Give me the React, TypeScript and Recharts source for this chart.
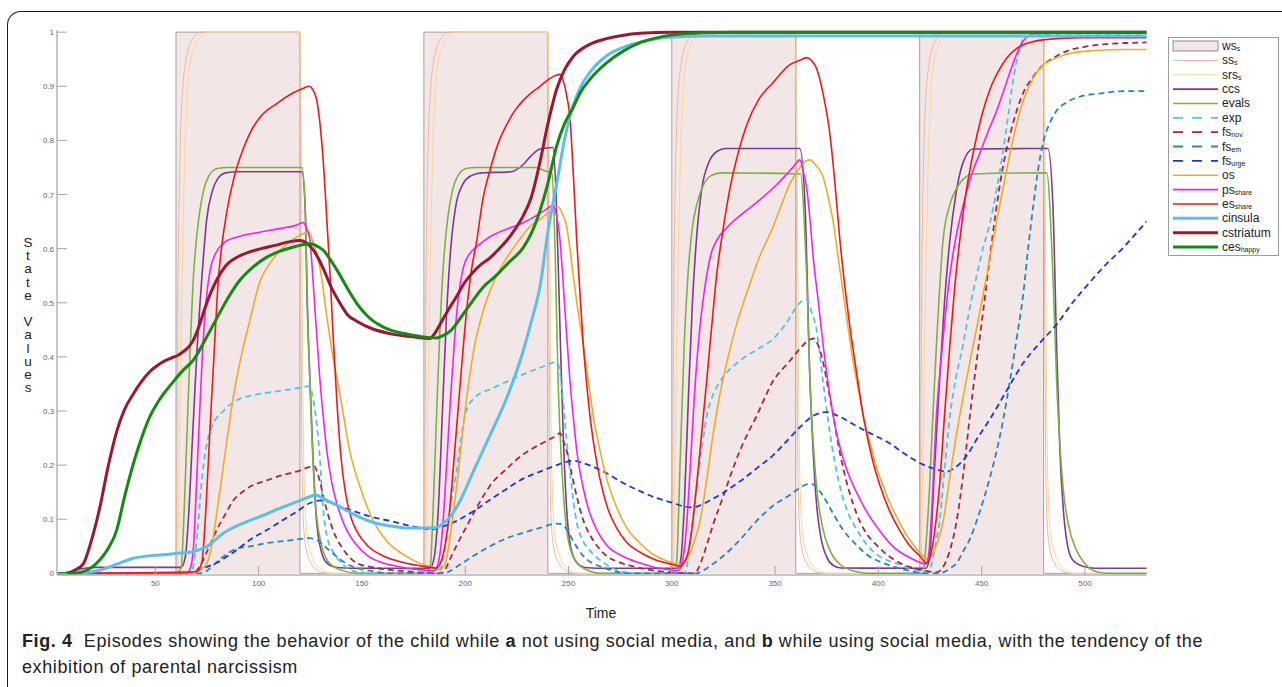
import React from 'react';
import { ComposedChart, Line, Area, XAxis, YAxis } from 'recharts';

type P = [number, number];

// ---------- data: [time, value] ----------
const ws: P[] = [[2,0],[60,0],[60,1],[120,1],[120,0],[180,0],[180,1],[240,1],[240,0],[300,0],[300,1],[360,1],[360,0],[420,0],[420,1],[480,1],[480,0],[530,0]];

const ss: P[] = [[2,0],[60,0],[60.6,0.3],[61.2,0.6],[62,0.78],[63,0.88],[64.5,0.94],[66.5,0.975],[69,0.992],[72,1],[120,1],[120.4,0.6],[120.9,0.25],[121.6,0.1],[123,0.045],[125.5,0.018],[129,0.005],[133,0],
[180,0],[180.6,0.3],[181.2,0.6],[182,0.78],[183,0.88],[184.5,0.94],[186.5,0.975],[189,0.992],[192,1],[240,1],[240.4,0.6],[240.9,0.25],[241.6,0.1],[243,0.045],[245.5,0.018],[249,0.005],[253,0],
[300,0],[300.6,0.3],[301.2,0.6],[302,0.78],[303,0.88],[304.5,0.94],[306.5,0.975],[309,0.992],[312,1],[360,1],[360.4,0.6],[360.9,0.25],[361.6,0.1],[363,0.045],[365.5,0.018],[369,0.005],[373,0],
[420,0],[420.6,0.3],[421.2,0.6],[422,0.78],[423,0.88],[424.5,0.94],[426.5,0.975],[429,0.992],[432,1],[480,1],[480.4,0.6],[480.9,0.25],[481.6,0.1],[483,0.045],[485.5,0.018],[489,0.005],[493,0],[530,0]];

const srs: P[] = [[2,0],[60.5,0],[61.5,0.2],[62.5,0.45],[63.5,0.65],[64.5,0.8],[65.5,0.89],[67,0.945],[69,0.975],[72,0.992],[75,1],[120.3,1],[120.8,0.7],[121.4,0.35],[122.2,0.15],[123.5,0.07],[126,0.03],[129.5,0.01],[135,0],
[180.5,0],[181.5,0.2],[182.5,0.45],[183.5,0.65],[184.5,0.8],[185.5,0.89],[187,0.945],[189,0.975],[192,0.992],[195,1],[240.3,1],[240.8,0.7],[241.4,0.35],[242.2,0.15],[243.5,0.07],[246,0.03],[249.5,0.01],[255,0],
[300.5,0],[301.5,0.2],[302.5,0.45],[303.5,0.65],[304.5,0.8],[305.5,0.89],[307,0.945],[309,0.975],[312,0.992],[315,1],[360.3,1],[360.8,0.7],[361.4,0.35],[362.2,0.15],[363.5,0.07],[366,0.03],[369.5,0.01],[375,0],
[420.5,0],[421.5,0.2],[422.5,0.45],[423.5,0.65],[424.5,0.8],[425.5,0.89],[427,0.945],[429,0.975],[432,0.992],[435,1],[480.3,1],[480.8,0.7],[481.4,0.35],[482.2,0.15],[483.5,0.07],[486,0.03],[489.5,0.01],[495,0],[530,0]];

const ccs: P[] = [[2,0],[6,0.001],[10,0.004],[15,0.009],[22,0.011],[62.5,0.011],[64.5,0.03],[66,0.1],[68,0.25],[70,0.4],[72.5,0.545],[74.9,0.655],[77.5,0.705],[80,0.728],[84,0.74],[90,0.742],[121,0.742],[122.5,0.68],[123.5,0.5],[124.9,0.35],[126.5,0.2],[128.1,0.094],[131.2,0.03],[134,0.016],[138,0.011],[145,0.0095],
[183,0.0095],[185,0.03],[187,0.12],[189,0.3],[191,0.48],[193,0.6],[195.5,0.68],[199,0.72],[203,0.735],[208,0.74],[222,0.742],[228,0.755],[232,0.772],[236.2,0.784],[242.5,0.787],[244,0.7],[245.9,0.45],[247.5,0.25],[249.1,0.12],[251,0.05],[254,0.02],[258,0.011],[264,0.0095],
[303,0.0095],[304.5,0.03],[306,0.12],[308,0.32],[310,0.5],[312,0.62],[314.5,0.71],[318,0.76],[322,0.78],[326,0.785],[362,0.785],[364.5,0.68],[366.9,0.355],[368.5,0.22],[370.1,0.127],[372.5,0.06],[375,0.03],[378,0.015],[382,0.01],
[423,0.0095],[424.8,0.03],[427,0.18],[429.6,0.355],[432,0.5],[434.6,0.615],[437.5,0.7],[440.9,0.758],[445.8,0.784],[482.1,0.785],[484.5,0.68],[486.3,0.42],[487.9,0.224],[489.5,0.12],[491.2,0.06],[494,0.025],[499,0.013],[505,0.0095],[530,0.0095]];

const evals: P[] = [[2,0],[60,0],[62.5,0.01],[64,0.12],[66,0.33],[68.4,0.545],[71,0.655],[73.5,0.71],[76,0.735],[80,0.748],[85,0.75],[121,0.75],[122.5,0.68],[124,0.45],[125.5,0.28],[127.5,0.13],[130,0.06],[134,0.02],[140,0.006],[148,0],
[181,0],[183,0.01],[184.5,0.12],[186.5,0.33],[189,0.545],[191.5,0.655],[194,0.71],[196.5,0.735],[200.5,0.748],[205,0.75],[234,0.75],[239,0.743],[242,0.74],[243.5,0.6],[245,0.35],[247,0.18],[249.5,0.07],[253,0.025],[258,0.008],[266,0],
[301.5,0],[302.5,0.03],[304,0.2],[306,0.42],[308,0.56],[310,0.64],[312,0.68],[315,0.715],[319,0.735],[324,0.74],[362.5,0.738],[364,0.66],[365.3,0.55],[366.9,0.355],[368.5,0.24],[370.1,0.16],[373,0.085],[376.6,0.042],[382,0.015],[389.5,0.003],[395,0],
[421.6,0],[423,0.05],[424.8,0.16],[426.5,0.3],[428.1,0.42],[431.3,0.615],[434.5,0.68],[437.9,0.712],[441,0.728],[445.8,0.738],[481.5,0.74],[484.5,0.55],[486.3,0.355],[489.4,0.16],[492,0.09],[496,0.042],[500,0.018],[505.7,0.003],[512,0],[530,0]];

const exp: P[] = [[2,0],[67.5,0],[69,0.03],[70.5,0.08],[72.5,0.172],[74.5,0.23],[76.5,0.262],[78.1,0.277],[82.9,0.3],[89.4,0.32],[100,0.331],[112,0.338],[120,0.343],[124.5,0.346],[126,0.33],[128,0.28],[129.7,0.21],[131,0.13],[133,0.07],[136,0.04],[139.4,0.022],[147,0.003],[155,0],
[187,0],[189,0.02],[191.5,0.08],[193.5,0.14],[195.9,0.19],[198,0.25],[200.7,0.302],[205.6,0.328],[212,0.34],[220.1,0.354],[236.2,0.38],[244.3,0.39],[245.5,0.38],[247.3,0.322],[249,0.25],[250.7,0.19],[252.5,0.13],[254,0.094],[257,0.06],[260.4,0.042],[268.5,0.016],[276,0.003],[285,0],
[306,0],[307.2,0.01],[309,0.06],[310.5,0.11],[312,0.16],[314.5,0.23],[316.9,0.29],[320,0.33],[323.3,0.354],[333,0.393],[341,0.413],[349,0.433],[355,0.46],[360,0.49],[362.5,0.502],[365.3,0.506],[367.5,0.485],[370.1,0.45],[373.2,0.355],[376.6,0.258],[381.4,0.16],[385,0.115],[389.5,0.081],[397,0.042],[410.5,0.016],[418,0.006],[424,0.003],
[426,0.02],[428,0.06],[429.6,0.094],[432,0.19],[434.6,0.29],[437.5,0.36],[440.9,0.42],[444,0.485],[447.6,0.55],[450.6,0.6],[454,0.647],[457.3,0.71],[460.3,0.778],[463,0.85],[465.1,0.908],[467.5,0.955],[470,0.986],[473,0.993],[476.6,0.996],[500,0.997],[530,0.997]];

const fsNov: P[] = [[2,0],[68,0],[71,0.01],[75,0.04],[79.7,0.08],[84,0.11],[87.8,0.135],[92,0.15],[95.8,0.16],[104,0.172],[112,0.182],[120,0.19],[124,0.196],[127,0.198],[128.5,0.185],[130,0.165],[131.3,0.142],[133.5,0.11],[136.2,0.078],[140,0.05],[144,0.03],[147.5,0.019],[155.5,0.011],[165,0.006],[178,0.002],[188,0],
[190,0.005],[192.5,0.025],[195.9,0.052],[200,0.082],[203.9,0.11],[208,0.138],[212,0.162],[220,0.193],[228.1,0.22],[236,0.238],[241,0.248],[244.3,0.255],[245.9,0.259],[247.5,0.245],[249.1,0.227],[251.5,0.185],[254,0.142],[257,0.1],[260.4,0.071],[264,0.05],[268.5,0.032],[275,0.02],[281.4,0.013],[290,0.006],[300,0.002],[311,0],
[313,0.01],[315,0.03],[316.9,0.052],[320,0.09],[324.9,0.142],[329,0.187],[333,0.227],[337,0.26],[341.1,0.291],[345,0.324],[349.1,0.356],[353,0.375],[357,0.392],[362,0.415],[366,0.43],[368.5,0.434],[371,0.42],[373.3,0.389],[375.8,0.34],[378.2,0.291],[380.5,0.24],[383,0.194],[386,0.15],[389.5,0.11],[394,0.075],[399.2,0.052],[405,0.032],[410.5,0.019],[416,0.011],[421.7,0.006],[428,0.002],
[431,0.01],[434,0.035],[437.9,0.097],[441,0.18],[444.3,0.291],[447.5,0.39],[450.8,0.486],[454,0.585],[457.3,0.68],[460.5,0.755],[463.7,0.81],[467,0.855],[470,0.887],[474.5,0.915],[479.7,0.939],[485,0.953],[491.2,0.965],[500,0.973],[510.5,0.978],[520,0.98],[530,0.981]];

const fsEm: P[] = [[2,0],[72,0],[75,0.005],[78,0.015],[82.9,0.031],[89.4,0.046],[95.8,0.05],[103.9,0.056],[115,0.061],[124.9,0.065],[127,0.063],[129.7,0.058],[132,0.05],[135,0.04],[139.4,0.026],[143,0.017],[147.5,0.01],[155,0.004],[162,0],
[190,0],[193,0.005],[197,0.015],[203.9,0.032],[212,0.05],[220.1,0.065],[228,0.075],[236.2,0.084],[244.3,0.092],[246.5,0.091],[248.5,0.085],[250.7,0.071],[253,0.055],[257.2,0.032],[261,0.02],[265.2,0.013],[273.3,0.003],[280,0],
[312,0],[315,0.005],[319,0.015],[324.9,0.032],[333,0.062],[341.1,0.097],[349,0.125],[357.2,0.145],[362,0.158],[366,0.165],[368,0.165],[371,0.155],[374.5,0.135],[378.2,0.11],[383,0.08],[389.5,0.052],[395,0.033],[402.4,0.019],[413.7,0.006],[422,0],
[430,0],[432.5,0.004],[435,0.01],[437.9,0.019],[441,0.04],[444.5,0.065],[447.6,0.097],[452,0.15],[457.3,0.227],[460.5,0.285],[463.7,0.356],[467,0.435],[470.2,0.518],[472.5,0.6],[475,0.68],[477.5,0.75],[479.8,0.797],[483,0.832],[486.3,0.855],[491,0.87],[497.6,0.881],[508,0.887],[518.6,0.891],[530,0.891]];

const fsUrge: P[] = [[2,0],[64,0],[67,0.002],[71,0.006],[74.9,0.012],[80,0.02],[84.6,0.031],[90,0.045],[95.8,0.062],[104,0.08],[112,0.099],[118,0.113],[124.9,0.13],[129.7,0.135],[133,0.133],[140,0.123],[147.5,0.113],[155,0.104],[163.6,0.097],[173,0.088],[180,0.083],[183,0.081],[187,0.084],[191,0.089],[195.9,0.097],[204,0.115],[212,0.136],[220,0.156],[228.1,0.175],[236.2,0.188],[244.3,0.2],[249,0.206],[252.3,0.208],[256,0.205],[262,0.197],[268.5,0.185],[276,0.168],[284.6,0.152],[292,0.14],[300.7,0.13],[305.5,0.124],[310.4,0.122],[315,0.128],[319,0.136],[324.9,0.149],[333,0.17],[341.1,0.194],[349,0.218],[357,0.25],[362,0.27],[368,0.29],[375,0.298],[381,0.29],[389.5,0.272],[397,0.257],[405.6,0.24],[413,0.22],[421.7,0.201],[428,0.192],[433,0.188],[437,0.195],[442.7,0.217],[448,0.25],[454,0.285],[462,0.337],[470.2,0.389],[478,0.425],[486.3,0.46],[494,0.5],[502.4,0.538],[510,0.57],[518.6,0.602],[524,0.625],[530,0.651]];

const os: P[] = [[2,0],[66,0],[69,0.002],[72,0.008],[74.9,0.018],[77.5,0.055],[79.7,0.11],[82.9,0.197],[85,0.255],[87.8,0.327],[91.5,0.4],[95.8,0.468],[100.7,0.54],[105,0.57],[110,0.595],[115.2,0.613],[120,0.625],[124.1,0.63],[126.5,0.61],[129.7,0.565],[133,0.475],[136,0.4],[139.4,0.33],[144.2,0.225],[150,0.15],[155.5,0.097],[162,0.06],[168,0.04],[175,0.024],[183,0.012],[188,0.007],
[190.5,0.02],[192.6,0.065],[195.9,0.162],[200.7,0.324],[204.5,0.42],[208.8,0.486],[214,0.54],[220.1,0.583],[226,0.615],[231.4,0.641],[236.2,0.654],[242.6,0.672],[245.1,0.677],[247,0.665],[249.1,0.641],[250.7,0.6],[252.3,0.55],[254.8,0.48],[257.2,0.421],[259.6,0.355],[262,0.291],[265,0.232],[268.5,0.175],[273,0.125],[278.2,0.084],[284,0.058],[289.5,0.039],[295,0.027],[300.7,0.019],[304,0.016],
[306,0.02],[308.5,0.035],[311,0.06],[313.7,0.097],[317,0.175],[320.1,0.259],[323,0.325],[326.6,0.389],[331,0.455],[336.3,0.518],[342,0.58],[349.1,0.641],[354,0.69],[357.2,0.72],[362,0.75],[365,0.762],[366.9,0.764],[369.5,0.755],[373.3,0.732],[376,0.69],[378.2,0.648],[380.5,0.585],[383,0.518],[385.5,0.45],[387.9,0.389],[390.3,0.34],[392.7,0.291],[396,0.24],[399.2,0.194],[402.5,0.16],[405.6,0.13],[409.5,0.1],[413.7,0.071],[417.5,0.05],[421.7,0.032],[424,0.026],
[426,0.035],[428.5,0.055],[431.4,0.097],[434.5,0.175],[437.9,0.259],[442,0.345],[445.9,0.421],[450,0.5],[454,0.583],[458,0.665],[462.1,0.745],[466,0.815],[470.2,0.874],[475,0.915],[479.8,0.939],[486,0.952],[494.3,0.962],[505,0.966],[518.6,0.968],[530,0.968]];

const psShare: P[] = [[2,0],[65,0],[67,0.01],[68.5,0.05],[70,0.17],[71.5,0.3],[73,0.42],[74.5,0.5],[76.5,0.56],[79,0.59],[83,0.61],[90,0.622],[100,0.63],[110,0.637],[118,0.643],[121.5,0.648],[123,0.64],[124.9,0.615],[126,0.56],[127.3,0.486],[128.5,0.42],[129.7,0.356],[131.3,0.29],[133,0.227],[135.3,0.17],[137.8,0.13],[142,0.085],[147.5,0.052],[153,0.032],[160.4,0.019],[170,0.011],[179.7,0.006],[185,0.005],
[187,0.02],[189,0.08],[191,0.2],[193,0.33],[195,0.44],[197,0.52],[199.1,0.565],[202,0.59],[206,0.605],[212,0.622],[220,0.636],[228.1,0.648],[234,0.66],[239,0.672],[242.6,0.68],[244,0.665],[245.9,0.615],[247,0.56],[248.3,0.486],[249.5,0.42],[250.7,0.356],[252.3,0.29],[254,0.227],[257,0.16],[260.4,0.11],[264,0.078],[268.5,0.052],[276,0.032],[284.6,0.019],[292,0.011],[300.7,0.006],[303,0.005],
[305,0.02],[307,0.08],[309,0.2],[311,0.33],[313,0.43],[315,0.5],[316.9,0.55],[319,0.59],[321.7,0.615],[327,0.64],[333,0.661],[341,0.685],[349.1,0.712],[355,0.735],[359,0.752],[362,0.764],[363.5,0.745],[365.3,0.712],[367,0.65],[368.5,0.583],[371,0.5],[373.3,0.421],[376.5,0.33],[379.8,0.259],[384,0.2],[389.5,0.149],[395,0.11],[400.8,0.078],[407,0.05],[413.7,0.032],[419,0.022],[423,0.017],
[424.5,0.04],[426,0.13],[428.1,0.291],[430,0.38],[432,0.46],[434.6,0.55],[437.5,0.62],[441,0.68],[445,0.735],[449.2,0.777],[453,0.815],[457.3,0.855],[460.5,0.89],[463.7,0.926],[467,0.96],[470.2,0.984],[473.5,0.995],[476.6,0.998],[500,0.998],[530,0.998]];

const esShare: P[] = [[2,0],[70,0.003],[72.5,0.02],[74.5,0.12],[76.5,0.27],[78.5,0.41],[80.5,0.542],[82.5,0.615],[84.6,0.668],[88,0.73],[92.6,0.785],[96,0.815],[100.7,0.843],[108.8,0.868],[116.8,0.888],[122,0.897],[124.5,0.9],[126,0.895],[128.1,0.875],[130,0.82],[131.5,0.75],[133,0.655],[134.6,0.55],[136.2,0.43],[138,0.31],[140,0.21],[142,0.15],[145,0.1],[147.5,0.078],[153,0.05],[160.4,0.032],[170,0.02],[179.7,0.013],[186,0.01],
[189,0.03],[192,0.1],[195,0.23],[198,0.37],[200.7,0.486],[203,0.56],[205.6,0.615],[208.5,0.69],[212,0.745],[216,0.795],[220.1,0.829],[224,0.855],[228.1,0.874],[232,0.888],[236.2,0.9],[240,0.912],[244.3,0.921],[245.9,0.922],[247.5,0.91],[249,0.885],[250.7,0.842],[252.3,0.74],[254,0.615],[255.6,0.515],[257.2,0.421],[258.8,0.35],[260.4,0.291],[262.8,0.225],[265.2,0.175],[269,0.12],[273.3,0.084],[278,0.058],[284.6,0.039],[292,0.025],[300.7,0.016],[304,0.013],
[306,0.02],[308,0.04],[310,0.09],[312,0.162],[314.5,0.26],[316.9,0.356],[319.3,0.455],[321.7,0.55],[325,0.64],[328.2,0.712],[332,0.775],[336.3,0.829],[342,0.875],[349.1,0.907],[357.2,0.94],[362,0.948],[365.3,0.953],[367.5,0.948],[370.1,0.933],[373.3,0.885],[376.6,0.81],[379,0.72],[381.4,0.615],[383.8,0.53],[386.3,0.453],[389.5,0.37],[392.7,0.291],[396.5,0.22],[400.8,0.162],[405.5,0.115],[410.5,0.078],[415,0.052],[420.1,0.032],[423.4,0.019],
[425,0.03],[427,0.07],[429.6,0.162],[432,0.29],[434.6,0.421],[437,0.53],[439.4,0.615],[442.5,0.705],[445.9,0.777],[450,0.845],[454,0.894],[458,0.927],[462.1,0.952],[467,0.97],[473.4,0.981],[480,0.986],[486.3,0.988],[500,0.99],[530,0.99]];

const cinsula: P[] = [[2,0],[12,0],[16,0.001],[23.2,0.006],[30,0.015],[39.4,0.028],[46,0.032],[52.3,0.034],[58,0.036],[63.6,0.038],[68.4,0.04],[71.5,0.044],[74.9,0.049],[78.5,0.06],[82.9,0.074],[89,0.087],[95.8,0.098],[104,0.11],[112,0.123],[119,0.133],[124.9,0.142],[127.5,0.145],[129.7,0.142],[134,0.133],[139.4,0.123],[147,0.107],[155.5,0.094],[163,0.088],[171.7,0.084],[184.6,0.084],[188.5,0.09],[192.6,0.104],[197,0.13],[203.9,0.188],[212,0.255],[220.1,0.324],[228,0.41],[232,0.465],[236.2,0.53],[240,0.63],[244.3,0.72],[248,0.8],[252.3,0.865],[256,0.9],[260.4,0.926],[268,0.955],[276.5,0.972],[285,0.982],[292.7,0.988],[300,0.991],[320,0.993],[530,0.993]];

const cstriatum: P[] = [[2,0],[6,0],[9,0.002],[12,0.008],[15.2,0.018],[19,0.06],[23.2,0.123],[27,0.195],[31.3,0.262],[35,0.302],[39.4,0.332],[43,0.353],[47.4,0.373],[52,0.387],[57.1,0.397],[61,0.403],[63.6,0.41],[66,0.418],[68.4,0.431],[71,0.455],[74,0.49],[77,0.52],[79.7,0.542],[84,0.568],[90,0.585],[95,0.593],[101.2,0.6],[108,0.606],[115.2,0.613],[120,0.615],[123,0.611],[126,0.6],[128.5,0.585],[131.3,0.563],[135,0.53],[139.4,0.499],[143,0.478],[147.5,0.466],[155,0.452],[163.6,0.443],[172,0.438],[180,0.435],[183,0.434],[185,0.442],[187.8,0.46],[191.5,0.485],[195.9,0.512],[199.5,0.536],[203.9,0.557],[208,0.572],[212,0.583],[216,0.598],[220.1,0.615],[224,0.635],[228.1,0.661],[232,0.695],[236.2,0.76],[240,0.83],[244.3,0.895],[248,0.93],[252.3,0.955],[260,0.977],[268.5,0.988],[276,0.994],[284.6,0.998],[300,1],[530,1]];

const cesHappy: P[] = [[2,0],[10,0],[14,0.002],[18,0.008],[23.2,0.025],[27,0.045],[31.3,0.08],[35,0.14],[39.4,0.203],[43.5,0.252],[47.4,0.29],[51.5,0.318],[55.5,0.339],[59.5,0.358],[63.6,0.376],[68.4,0.394],[71.5,0.413],[74.9,0.437],[80,0.473],[84.6,0.505],[91,0.542],[97,0.565],[103,0.582],[110,0.595],[116,0.602],[121,0.607],[125,0.609],[129,0.603],[131.3,0.597],[135,0.578],[139.4,0.551],[143.5,0.523],[147.5,0.499],[151.5,0.48],[155.5,0.466],[160,0.456],[163.6,0.45],[172,0.442],[179.7,0.437],[186.2,0.435],[189,0.439],[192.6,0.447],[197,0.468],[200.5,0.487],[203.9,0.505],[209,0.53],[215.2,0.551],[221,0.574],[228.1,0.602],[232,0.628],[236.2,0.67],[240,0.72],[244.3,0.79],[248,0.83],[252.3,0.861],[256,0.89],[260.4,0.913],[268,0.942],[276.5,0.965],[285,0.981],[292,0.989],[300.7,0.995],[315,0.999],[330,1],[530,1]];

const xTicks = [50, 100, 150, 200, 250, 300, 350, 400, 450, 500];
const yTicks = [0, 0.1, 0.2, 0.3, 0.4, 0.5, 0.6, 0.7, 0.8, 0.9, 1];
const yTickLabels = ['0', '0.1', '0.2', '0.3', '0.4', '0.5', '0.6', '0.7', '0.8', '0.9', '1'];
const legendNames = ['ws', 'ss', 'srs', 'ccs', 'evals', 'exp', 'fs', 'fs', 'fs', 'os', 'ps', 'es', 'cinsula', 'cstriatum', 'ces'];
const legendSubs = ['s', 's', 's', '', '', '', 'nov', 'em', 'urge', '', 'share', 'share', '', '', 'happy'];

// ---------- styles ----------
const FONT = '"Liberation Sans", Arial, sans-serif';
const X_DOMAIN: [number, number] = [2.4, 529.8];
const Y_DOMAIN: [number, number] = [-0.003, 1.004];
const AXIS = '#b4b4b4';
const TICK = '#a6a6a6';

const rows = (a: P[]) => a.map(([t, v]) => ({ t, v }));

const lineSeries = [
  { id: 'ss', data: ss, color: '#f2b59d', w: 1, dash: undefined as string | undefined },
  { id: 'srs', data: srs, color: '#f7d796', w: 1, dash: undefined },
  { id: 'ccs', data: ccs, color: '#7d3a8f', w: 1.6, dash: undefined },
  { id: 'evals', data: evals, color: '#7ab342', w: 1.6, dash: undefined },
  { id: 'exp', data: exp, color: '#55c1ea', w: 1.8, dash: '6 4' },
  { id: 'fsnov', data: fsNov, color: '#a8283c', w: 1.8, dash: '6 4' },
  { id: 'fsem', data: fsEm, color: '#2b82c4', w: 1.8, dash: '6 4' },
  { id: 'fsurge', data: fsUrge, color: '#1a36e0', w: 1.8, dash: '6 4' },
  { id: 'os', data: os, color: '#f0aa2a', w: 1.6, dash: undefined },
  { id: 'ps', data: psShare, color: '#f420f0', w: 1.6, dash: undefined },
  { id: 'es', data: esShare, color: '#f2161a', w: 1.6, dash: undefined },
  { id: 'cinsula', data: cinsula, color: '#5bbfea', w: 3, dash: undefined },
  { id: 'cstriatum', data: cstriatum, color: '#9c1830', w: 3, dash: undefined },
  { id: 'ces', data: cesHappy, color: '#148a14', w: 3, dash: undefined },
];

const WS_FILL = '#f3e6e6';
const WS_STROKE = '#a2a2a2';

const BottomTick = (p: any) => (
  <g>
    <line x1={p.x} x2={p.x} y1={p.y} y2={p.y - 9} stroke={TICK} strokeWidth={1} />
    <text x={p.x} y={p.y + 11} textAnchor="middle" fontSize={8} fill="#666" fontFamily={FONT}>{p.payload.value}</text>
  </g>
);
const TopTick = (p: any) => (
  <line x1={p.x} x2={p.x} y1={p.y} y2={p.y + 9} stroke={TICK} strokeWidth={1} />
);
const LeftTick = (p: any) => {
  const i = yTicks.indexOf(p.payload.value);
  return (
    <g>
      <line x1={p.x} x2={p.x + 10} y1={p.y} y2={p.y} stroke={TICK} strokeWidth={1} />
      <text x={p.x - 3} y={p.y + 3} textAnchor="end" fontSize={8} fill="#666" fontFamily={FONT}>{i >= 0 ? yTickLabels[i] : p.payload.value}</text>
    </g>
  );
};
const RightTick = (p: any) => (
  <line x1={p.x} x2={p.x - 10} y1={p.y} y2={p.y} stroke={TICK} strokeWidth={1} />
);

const Legend = () => {
  const top = 46;
  const step = 14.36;
  return (
    <svg width={122} height={240} style={{ position: 'absolute', left: 1160, top: 30 }}>
      <rect x={8.5} y={7.5} width={110} height={218} fill="#fff" stroke="#9c9c9c" strokeWidth={1} />
      {legendNames.map((name, i) => {
        const cy = top - 30 + i * step;
        let swatch: React.ReactNode;
        if (i === 0) {
          swatch = <rect x={13} y={cy - 5} width={45} height={10} fill={WS_FILL} stroke="#8c8c8c" strokeWidth={1} />;
        } else {
          const s = lineSeries[i - 1];
          swatch = (
            <line x1={13} x2={58} y1={cy} y2={cy} stroke={s.color} strokeWidth={s.w}
              strokeDasharray={s.dash ? '10 9' : undefined} />
          );
        }
        return (
          <g key={i}>
            {swatch}
            <text x={62} y={cy + 4} fontSize={12} fill="#222" fontFamily={FONT}>
              {name}
              {legendSubs[i] ? <tspan fontSize={7} dy={1}>{legendSubs[i]}</tspan> : null}
            </text>
          </g>
        );
      })}
    </svg>
  );
};

export default function App() {
  const yTitle = 'State Values'.split('');
  return (
    <div style={{ position: 'relative', width: 1282, height: 687, overflow: 'hidden', background: '#fff', fontFamily: FONT }}>
      <style>{'html,body{margin:0;padding:0;overflow:hidden;background:#fff}'}</style>
      <div style={{ position: 'absolute', left: 7, top: 11, width: 1320, height: 720, borderLeft: '1.5px solid #1e1e1e', borderTop: '1.5px solid #1e1e1e', borderTopLeftRadius: 14, boxSizing: 'border-box' }} />
      <div style={{ position: 'absolute', left: 0, top: 0 }}>
        <ComposedChart width={1160} height={600} margin={{ top: 30, right: 13.5, bottom: 0, left: 0 }}>
          <XAxis xAxisId={0} dataKey="t" type="number" domain={X_DOMAIN} allowDataOverflow ticks={xTicks} interval={0}
            height={25} tickSize={0} tickMargin={0} tick={(p: any) => <BottomTick {...p} />} tickLine={false}
            axisLine={{ stroke: AXIS, strokeWidth: 1.5 }} />
          <XAxis xAxisId="top" dataKey="t" orientation="top" type="number" domain={X_DOMAIN} allowDataOverflow ticks={xTicks} interval={0}
            height={0} tickSize={0} tickMargin={0} tick={(p: any) => <TopTick {...p} />} tickLine={false}
            axisLine={{ stroke: AXIS, strokeWidth: 1.5 }} />
          <YAxis yAxisId={0} type="number" domain={Y_DOMAIN} allowDataOverflow ticks={yTicks} interval={0}
            width={57} tickSize={0} tickMargin={0} tick={(p: any) => <LeftTick {...p} />} tickLine={false}
            axisLine={{ stroke: AXIS, strokeWidth: 1.5 }} />
          <YAxis yAxisId="right" orientation="right" type="number" domain={Y_DOMAIN} allowDataOverflow ticks={yTicks} interval={0}
            width={0} tickSize={0} tickMargin={0} tick={(p: any) => <RightTick {...p} />} tickLine={false}
            axisLine={{ stroke: AXIS, strokeWidth: 1.5 }} />
          <Area data={rows(ws)} dataKey="v" type="linear" fill={WS_FILL} fillOpacity={1} stroke={WS_STROKE} strokeWidth={1}
            isAnimationActive={false} dot={false} activeDot={false} />
          {lineSeries.map((s) => (
            <Line key={s.id} data={rows(s.data)} dataKey="v" type="monotone" stroke={s.color} strokeWidth={s.w}
              strokeDasharray={s.dash} dot={false} activeDot={false} isAnimationActive={false} />
          ))}
        </ComposedChart>
      </div>
      <Legend />
      <div style={{ position: 'absolute', left: 20, top: 236, width: 16, display: 'flex', flexDirection: 'column', alignItems: 'center', fontSize: 13.5, color: '#222' }}>
        {yTitle.map((c, i) => (
          <div key={i} style={{ height: 13.2, lineHeight: '13.2px' }}>{c === ' ' ? '\u00a0' : c}</div>
        ))}
      </div>
      <div style={{ position: 'absolute', left: 0, width: 1202, top: 605, textAlign: 'center', fontSize: 14, color: '#222' }}>Time</div>
      <div style={{ position: 'absolute', left: 22, top: 628, fontSize: 18, letterSpacing: 0.6, lineHeight: '26px', color: '#222', whiteSpace: 'nowrap' }}>
        <div><b>Fig. 4</b>{'\u00a0\u00a0'}Episodes showing the behavior of the child while <b>a</b> not using social media, and <b>b</b> while using social media, with the tendency of the</div>
        <div>exhibition of parental narcissism</div>
      </div>
    </div>
  );
}
